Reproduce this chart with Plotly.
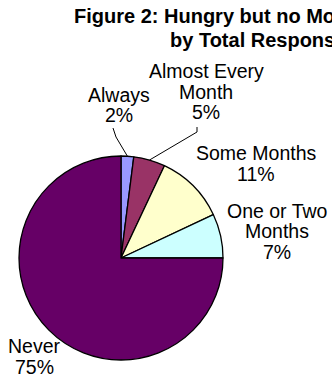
import math
import plotly.graph_objects as go

# Responses to "hungry but no money for food", share of all responses
categories = ["Always", "Almost Every Month", "Some Months", "One or Two Months", "Never"]
percents = [2, 5, 11, 7, 75]
label_lines = [["Always", "2%"],
               ["Almost Every", "Month", "5%"],
               ["Some Months", "11%"],
               ["One or Two", "Months", "7%"],
               ["Never", "75%"]]
title_lines = ["Figure 2: Hungry but no Money for Food", "by Total Responses"]
colors = ["#9999FF", "#993366", "#FFFFCC", "#CCFFFF", "#660066"]

W, H = 332, 377
FONT = "Arial, Liberation Sans, sans-serif"

# pie placement (pixels)
CX, CY, R = 121, 258, 102

# label centres (pixels) and line spacing
label_pos = [(119, 95), (206, 71), (256, 153), (277, 211), (34, 346)]
LINE_H = 20.5

# title lines: left edge and vertical centre (pixels)
title_pos = [(72, 16), (168, 40)]


def px(x):
    return x / W


def py(y):
    return 1 - y / H


fig = go.Figure(go.Pie(
    labels=categories,
    values=percents,
    sort=False,
    direction="clockwise",
    rotation=0,
    textinfo="none",
    hoverinfo="label+percent",
    marker=dict(colors=colors, line=dict(color="black", width=1.3)),
    domain=dict(x=[px(CX - R), px(CX + R)], y=[py(CY + R), py(CY - R)]),
    showlegend=False,
))

annotations = []
for lines, (lx, ly) in zip(label_lines, label_pos):
    for i, line in enumerate(lines):
        annotations.append(dict(
            text=line, x=px(lx), y=py(ly + i * LINE_H), xref="paper", yref="paper",
            xanchor="center", yanchor="middle", showarrow=False,
            font=dict(family=FONT, size=19.5, color="black"),
        ))

for line, (tx, ty) in zip(title_lines, title_pos):
    annotations.append(dict(
        text="<b>" + line + "</b>", x=px(tx), y=py(ty), xref="paper", yref="paper",
        xanchor="left", yanchor="middle", showarrow=False,
        font=dict(family=FONT, size=20, color="black"),
    ))

# leader lines from the small-slice labels to the rim of their slices
total = sum(percents)
cum = 0
mid_angles = []
for v in percents:
    mid_angles.append(2 * math.pi * (cum + v / 2) / total)
    cum += v

leaders = {0: [(113, 128), (116, 137)], 1: [(197, 127), (197, 132)]}
shapes = []
for idx, pts in leaders.items():
    a = mid_angles[idx]
    ex, ey = CX + R * math.sin(a), CY - R * math.cos(a)
    path = "M {} {} L {} {} L {} {}".format(
        px(pts[0][0]), py(pts[0][1]), px(pts[1][0]), py(pts[1][1]), px(ex), py(ey))
    shapes.append(dict(type="path", path=path, xref="paper", yref="paper",
                       line=dict(color="black", width=1)))

fig.update_layout(
    width=W, height=H,
    margin=dict(l=0, r=0, t=0, b=0),
    paper_bgcolor="white", plot_bgcolor="white",
    annotations=annotations, shapes=shapes,
)

fig.write_html("out.html")
